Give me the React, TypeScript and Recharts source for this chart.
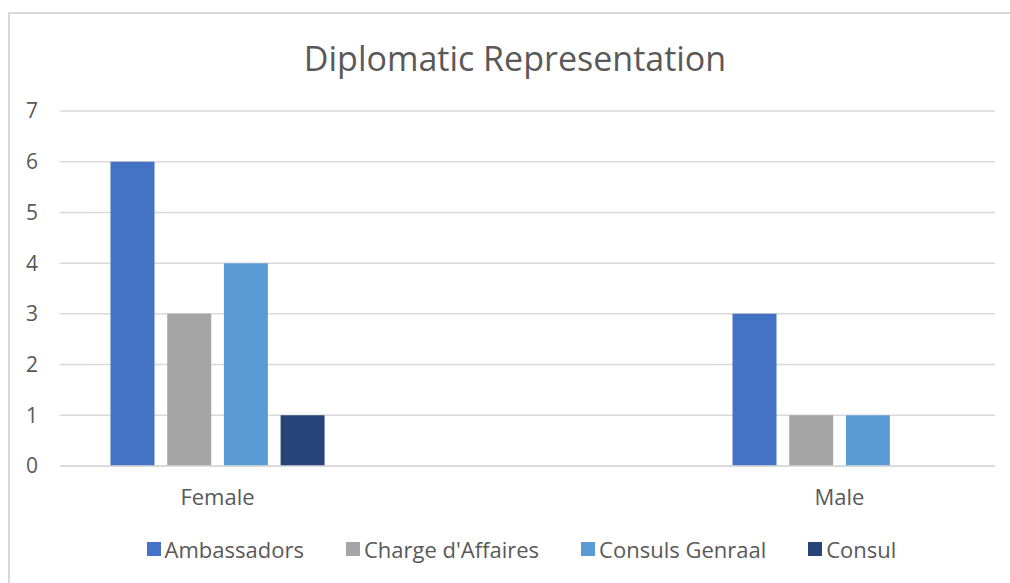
import { BarChart, Bar, XAxis, YAxis, CartesianGrid, Legend } from 'recharts';

const genders = ['Female', 'Male'];
const ambassadors = [6, 3];
const chargeDAffaires = [3, 1];
const consulsGenraal = [4, 1];
const consul = [1, 0];
const yTicks = [0, 1, 2, 3, 4, 5, 6, 7];

const SERIES = [
  { key: 'ambassadors', name: 'Ambassadors', color: '#4472C4' },
  { key: 'charge', name: "Charge d'Affaires", color: '#A5A5A5' },
  { key: 'consulsGenraal', name: 'Consuls Genraal', color: '#5B9BD5' },
  { key: 'consul', name: 'Consul', color: '#264478' },
];

const chartData = genders.map((g, i) => ({
  gender: g,
  ambassadors: ambassadors[i],
  charge: chargeDAffaires[i],
  consulsGenraal: consulsGenraal[i],
  consul: consul[i],
}));

const FONT = '"Open Sans", "Noto Sans", sans-serif';
const TEXT = '#595959';

function LegendRow() {
  return (
    <div
      style={{
        height: 30,
        display: 'flex',
        justifyContent: 'center',
        alignItems: 'center',
        gap: 42,
        fontFamily: FONT,
        fontSize: 22,
        color: TEXT,
      }}
    >
      {SERIES.map((s) => (
        <span key={s.key} style={{ display: 'flex', alignItems: 'center', gap: 4 }}>
          <span style={{ width: 14, height: 14, background: s.color, display: 'inline-block' }} />
          {s.name}
        </span>
      ))}
    </div>
  );
}

export default function App() {
  return (
    <div
      style={{
        position: 'absolute',
        left: 0,
        top: 0,
        width: 1010,
        height: 583,
        background: '#fff',
        overflow: 'hidden',
      }}
    >
      <div
        style={{
          position: 'absolute',
          left: 8,
          top: 12,
          width: 1010,
          height: 600,
          borderTop: '2px solid #d9d9d9',
          borderLeft: '2px solid #d9d9d9',
        }}
      />
      <div
        style={{
          position: 'absolute',
          left: 0,
          top: 41,
          width: 1030,
          textAlign: 'center',
          fontFamily: FONT,
          fontSize: 34,
          lineHeight: '34px',
          color: TEXT,
        }}
      >
        Diplomatic Representation
      </div>
      <div style={{ position: 'absolute', left: 0, top: 0 }}>
        <BarChart
          width={1010}
          height={583}
          data={chartData}
          margin={{ top: 111, right: 15, left: 0, bottom: 37 }}
          barSize={44}
          barGap={12.7}
        >
          <CartesianGrid vertical={false} stroke="#d9d9d9" strokeWidth={1.5} />
          <XAxis
            dataKey="gender"
            height={50}
            padding={{ left: -153.5, right: -155.5 }}
            axisLine={{ stroke: '#d9d9d9', strokeWidth: 1.5 }}
            tickLine={false}
            tickSize={0}
            tickMargin={23}
            tick={{ fill: TEXT, fontSize: 22, fontFamily: FONT }}
          />
          <YAxis
            width={60}
            domain={[0, 7]}
            ticks={yTicks}
            interval={0}
            axisLine={false}
            tickLine={false}
            tickSize={0}
            tickMargin={22}
            tick={{ fill: TEXT, fontSize: 21, fontFamily: FONT }}
          />
          <Legend
            verticalAlign="bottom"
            content={() => <LegendRow />}
            wrapperStyle={{ top: 534, left: 0, width: 1043, bottom: 'auto' }}
          />
          {SERIES.map((s) => (
            <Bar key={s.key} dataKey={s.key} name={s.name} fill={s.color} isAnimationActive={false} />
          ))}
        </BarChart>
      </div>
    </div>
  );
}
